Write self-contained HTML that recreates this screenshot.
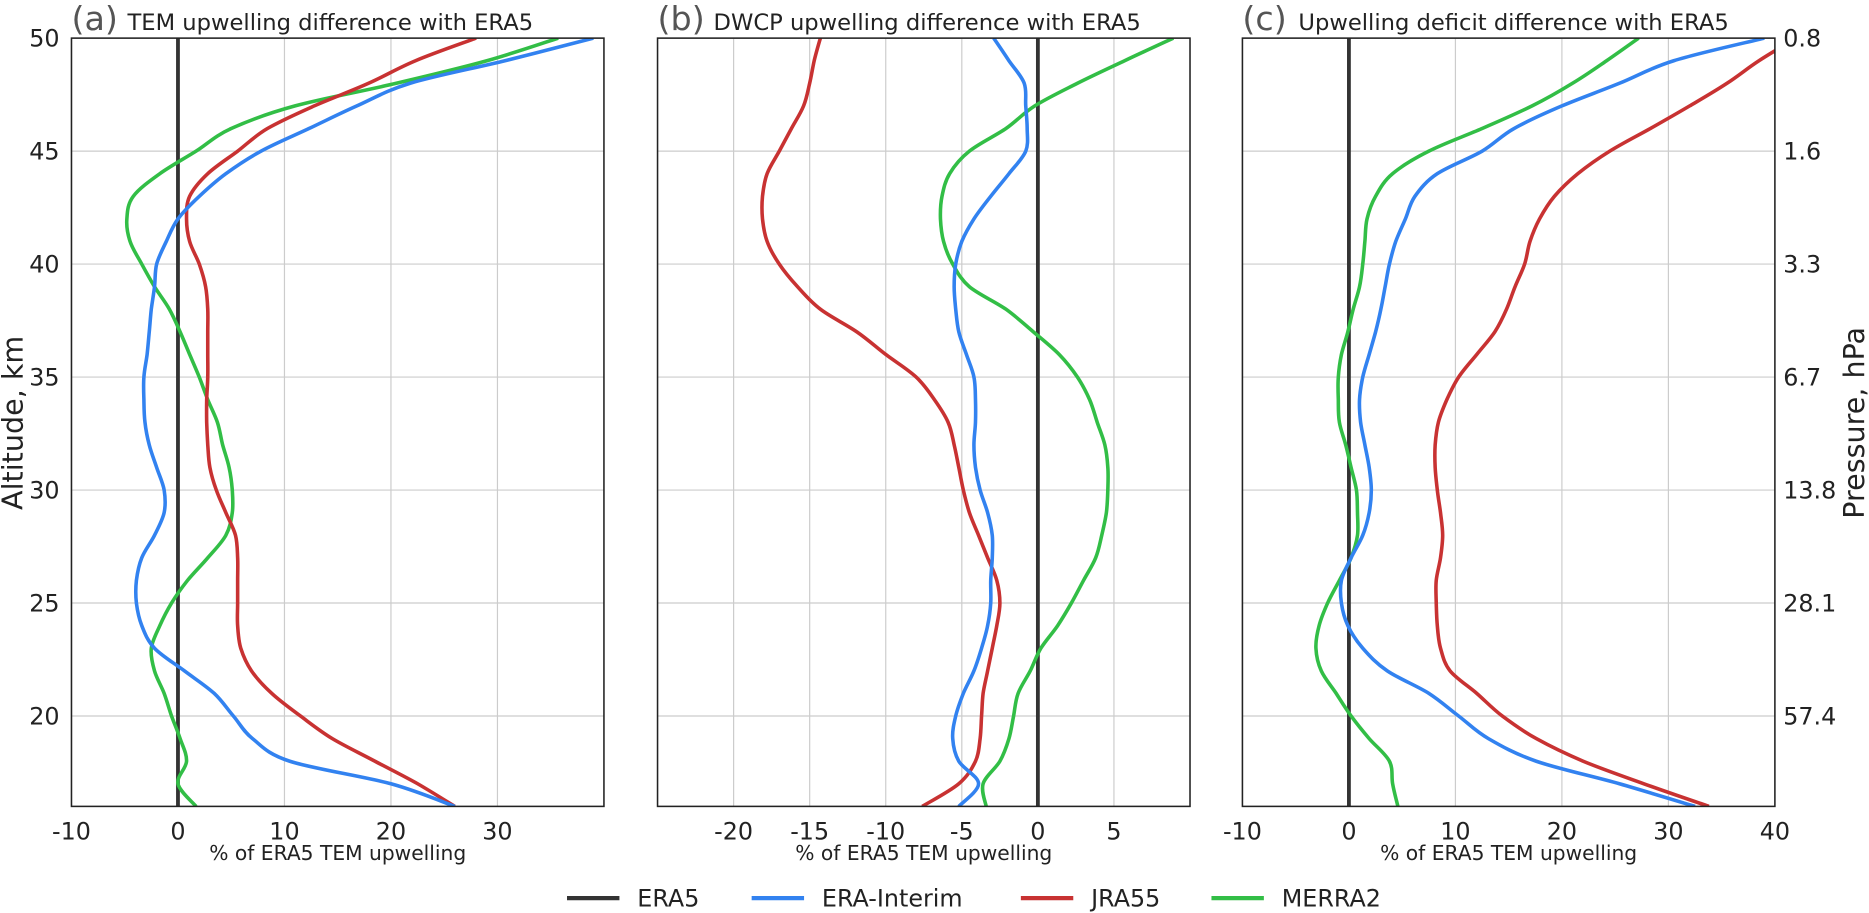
<!DOCTYPE html>
<html><head><meta charset="utf-8"><style>
html,body{margin:0;padding:0;background:#fff;overflow:hidden;}
svg{font-family:"DejaVu Sans","Liberation Sans",sans-serif;display:block;}
</style></head><body>
<svg id="chart" width="1869" height="913" viewBox="0 0 1569 766.5" preserveAspectRatio="none" xmlns="http://www.w3.org/2000/svg"></svg>
<script>
const altitudes=[16,17,18,19,20,21,22,23,24,25,26,27,28,29,30,31,32,33,34,35,36,37,38,39,40,41,42,43,44,45,46,47,48,49,50];
const aBlue=[26,20,10.5,7,5.2,3.4,0.6,-2.2,-3.4,-3.9,-3.9,-3.4,-2.2,-1.3,-1.3,-2,-2.7,-3.1,-3.2,-3.2,-2.9,-2.7,-2.5,-2.2,-2,-1.1,0,2,4.5,7.8,12.3,16.8,21.8,30.7,39];
const aRed=[26,22.5,18.5,14.5,11.5,8.8,6.9,5.9,5.6,5.6,5.6,5.6,5.4,4.5,3.6,3,2.8,2.7,2.7,2.8,2.8,2.8,2.8,2.6,2,1.1,0.8,1.1,2.8,5.6,8.4,12.8,17.9,22.3,28];
const aGreen=[1.7,0,0.8,0.2,-0.6,-1.3,-2.2,-2.5,-1.7,-0.6,0.9,2.8,4.5,5.1,5.1,4.8,4.2,3.7,2.8,2,1.1,0.2,-0.8,-2.2,-3.4,-4.5,-4.8,-4.2,-1.7,1.7,5,11,20.5,29,35.7];
const bBlue=[-5.2,-3.9,-5.2,-5.6,-5.4,-4.9,-4.2,-3.7,-3.3,-3.1,-3.1,-3,-3,-3.3,-3.8,-4.1,-4.2,-4.1,-4.1,-4.2,-4.7,-5.2,-5.4,-5.5,-5.4,-5,-4.2,-3.1,-1.9,-0.8,-0.7,-0.8,-0.9,-1.9,-2.9];
const bRed=[-7.6,-5.2,-4.1,-3.8,-3.7,-3.6,-3.3,-3,-2.7,-2.5,-2.7,-3.3,-3.9,-4.5,-4.9,-5.2,-5.5,-5.9,-6.8,-8,-10,-11.9,-14.3,-15.8,-17,-17.8,-18.1,-18.1,-17.8,-17,-16.2,-15.4,-15,-14.7,-14.3];
const bGreen=[-3.4,-3.6,-2.5,-1.9,-1.6,-1.3,-0.5,0.2,1.3,2.2,3,3.8,4.2,4.5,4.6,4.6,4.4,3.9,3.4,2.6,1.4,-0.3,-2.1,-4.5,-5.6,-6.2,-6.4,-6.3,-5.8,-4.5,-2.1,-0.2,2.6,5.7,8.9];
const cBlue=[32.5,25.4,17.6,13.1,10.3,7.5,3.6,1.3,-0.1,-0.7,-0.7,0.2,1.3,1.9,2.1,1.9,1.5,1.1,1,1.3,1.9,2.5,3,3.4,3.8,4.4,5.3,6.2,8.3,12.5,15.5,20,25.4,30.5,39];
const cRed=[33.8,27.7,22,17.6,14.4,12,9.5,8.6,8.3,8.2,8.2,8.6,8.8,8.6,8.3,8.1,8.1,8.4,9.2,10.3,12,13.7,14.8,15.6,16.5,17,17.9,19.3,21.5,24.5,28.3,32,35.5,38.5,42];
const cGreen=[4.6,4.1,3.8,1.9,0.2,-1.2,-2.6,-3.1,-2.8,-2,-0.9,0.2,0.8,0.8,0.7,0.2,-0.3,-0.9,-1,-1,-0.7,-0.1,0.4,1,1.3,1.5,1.7,2.5,4.1,7.5,12.5,17.2,21,24.2,27.2];
const yTicks=[20,25,30,35,40,45,50];
const pressureLabels=["57.4","28.1","13.8","6.7","3.3","1.6","0.8"];
const xTicksA=[-10,0,10,20,30];
const xTicksB=[-20,-15,-10,-5,0,5];
const xTicksC=[-10,0,10,20,30,40];

const NS="http://www.w3.org/2000/svg";
const svg=document.getElementById('chart');
const COL={ERA5:"#333333",ERAI:"#3282f0",JRA:"#c83232",MERRA:"#32be46"};
function mk(tag,attrs,parent){const e=document.createElementNS(NS,tag);for(const k in attrs)e.setAttribute(k,attrs[k]);(parent||svg).appendChild(e);return e;}
function txt(s,attrs,parent){const e=mk('text',attrs,parent);e.textContent=s;return e;}
function smooth(pts){
  let d='M'+pts[0][0].toFixed(1)+','+pts[0][1].toFixed(1);
  for(let i=0;i<pts.length-1;i++){
    const p0=pts[Math.max(0,i-1)],p1=pts[i],p2=pts[i+1],p3=pts[Math.min(pts.length-1,i+2)];
    const c1=[p1[0]+(p2[0]-p0[0])/6,p1[1]+(p2[1]-p0[1])/6];
    const c2=[p2[0]-(p3[0]-p1[0])/6,p2[1]-(p3[1]-p1[1])/6];
    d+='C'+c1[0].toFixed(1)+','+c1[1].toFixed(1)+' '+c2[0].toFixed(1)+','+c2[1].toFixed(1)+' '+p2[0].toFixed(1)+','+p2[1].toFixed(1);
  }
  return d;
}

const T=32,B=677,yMin=16,yMax=50;
const yS=a=>B-(a-yMin)/(yMax-yMin)*(B-T);

function panel(id,L,R,xmin,xmax,xt,series,letter,title,xlabel,leftLabels,rightLabels){
  const g=mk('g',{});
  
  
  const xS=v=>L+(v-xmin)/(xmax-xmin)*(R-L);
  const clip=mk('clipPath',{id:'clip'+id},g);mk('rect',{x:L,y:T,width:R-L,height:B-T},clip);
  yTicks.forEach((t,i)=>{
    const gl=mk('line',{x1:L,x2:R,y1:yS(t),y2:yS(t),stroke:'#cccccc','stroke-width':1},g);
    
    
    if(leftLabels){const l=txt(String(t),{x:L-10,y:yS(t)+7,'text-anchor':'end','font-size':20,fill:'#222'},g);
      
      }
    if(rightLabels){const l=txt(pressureLabels[i],{x:R+7,y:yS(t)+7,'font-size':20,fill:'#222'},g);
      
      }
  });
  xt.forEach(t=>{
    const gl=mk('line',{x1:xS(t),x2:xS(t),y1:T,y2:B,stroke:'#cccccc','stroke-width':1},g);
    
    
    const l=txt(t<0?'-'+Math.abs(t):String(t),{x:xS(t),y:B+28,'text-anchor':'middle','font-size':20,fill:'#222'},g);
    
    
  });
  const z=mk('line',{x1:xS(0),x2:xS(0),y1:T,y2:B,stroke:COL.ERA5,'stroke-width':3.2},g);
  
  
  series.forEach(s=>{
    const pts=s.vals.map((v,i)=>[xS(v),yS(altitudes[i])]);
    const p=mk('path',{d:smooth(pts),fill:'none',stroke:s.c,'stroke-width':3,'stroke-linejoin':'round','clip-path':'url(#clip'+id+')'},g);
    
    
  });
  const fr=mk('rect',{x:L,y:T,width:R-L,height:B-T,fill:'none',stroke:'#222','stroke-width':1.3},g);
  
  
  const lt=txt(letter,{x:L,y:T-7,'font-size':28,fill:'#555'},g);
  
  
  const tt=txt(title,{x:L+47,y:T-7,'font-size':19,fill:'#222'},g);
  
  
  const xl=txt(xlabel,{x:(L+R)/2,y:B+45,'text-anchor':'middle','font-size':17,fill:'#222'},g);
  
  
}
panel('a',60,507,-10,40,xTicksA,[{vals:aGreen,c:COL.MERRA,n:'merra2-line'},{vals:aRed,c:COL.JRA,n:'jra55-line'},{vals:aBlue,c:COL.ERAI,n:'era-interim-line'}],'(a)','TEM upwelling difference with ERA5','% of ERA5 TEM upwelling',true,false);
panel('b',552,999,-25,10,xTicksB,[{vals:bGreen,c:COL.MERRA,n:'merra2-line'},{vals:bRed,c:COL.JRA,n:'jra55-line'},{vals:bBlue,c:COL.ERAI,n:'era-interim-line'}],'(b)','DWCP upwelling difference with ERA5','%  of ERA5 TEM upwelling',false,false);
panel('c',1043,1490,-10,40,xTicksC,[{vals:cGreen,c:COL.MERRA,n:'merra2-line'},{vals:cRed,c:COL.JRA,n:'jra55-line'},{vals:cBlue,c:COL.ERAI,n:'era-interim-line'}],'(c)','Upwelling deficit difference with ERA5','% of ERA5 TEM upwelling',false,true);

const yl=txt('Altitude, km',{x:0,y:0,transform:'translate(19,355) rotate(-90)','text-anchor':'middle','font-size':24,fill:'#222'});


const yr=txt('Pressure, hPa',{x:0,y:0,transform:'translate(1565,355) rotate(-90)','text-anchor':'middle','font-size':24,fill:'#222'});



const legNames=['ERA5','ERA-Interim','JRA55','MERRA2'];
const legCols=[COL.ERA5,COL.ERAI,COL.JRA,COL.MERRA];
const legX=[476,631,857,1017];
const lg=mk('g',{});


legNames.forEach((n,i)=>{
  const e=mk('g',{},lg);
  
  
  mk('line',{x1:legX[i],x2:legX[i]+44,y1:754,y2:754,stroke:legCols[i],'stroke-width':3.5},e);
  txt(n,{x:legX[i]+59,y:761,'font-size':20,fill:'#222'},e);
});
</script>
</body></html>
